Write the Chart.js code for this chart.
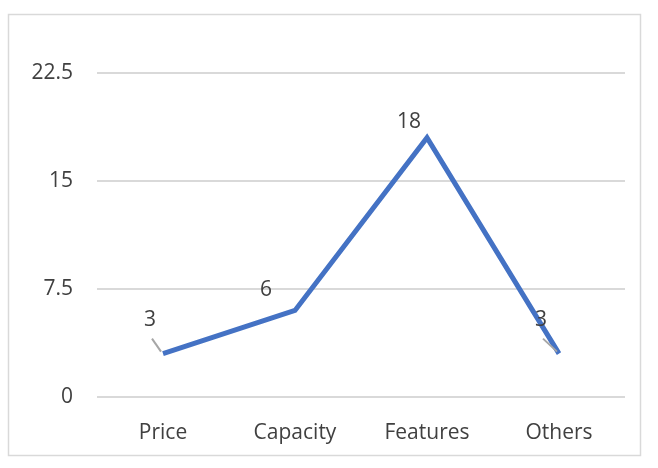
<!DOCTYPE html>
<html>
<head>
<script src="https://cdn.jsdelivr.net/npm/chart.js@4/dist/chart.umd.min.js"></script>
<style>
  body { margin: 0; background: #fff; }
  #wrap { width: 658px; height: 468px; }
</style>
</head>
<body>
<div id="wrap"><canvas id="lineChart" width="658" height="468"></canvas></div>
<script>
// Chart data
var categories = ["Price", "Capacity", "Features", "Others"];
var counts = [3, 6, 18, 3];
var yTicks = [0, 7.5, 15, 22.5];

// label offsets from the point (dx, dy) and whether a leader line is drawn
var labelOffsets = [[-13, -34, true], [-29, -20, false], [-18, -16, false], [-18, -34, true]];

var frameAndLabels = {
    id: "frameAndLabels",
    afterDraw: function (chart) {
        var ctx = chart.ctx;
        ctx.save();
        ctx.strokeStyle = "#d9d9d9";
        ctx.lineWidth = 1.5;
        ctx.strokeRect(8.5, 14.5, 632, 441);

        var meta = chart.getDatasetMeta(0);
        ctx.font = "21px 'Open Sans'";
        ctx.fillStyle = "#404040";
        ctx.textAlign = "center";
        ctx.textBaseline = "middle";
        meta.data.forEach(function (pt, i) {
            var off = labelOffsets[i];
            if (off[2]) {
                ctx.strokeStyle = "#a6a6a6";
                ctx.lineWidth = 2;
                ctx.beginPath();
                ctx.moveTo(pt.x + off[0] + 2, pt.y + off[1] + 19);
                ctx.lineTo(pt.x - 2, pt.y - 2);
                ctx.stroke();
            }
            ctx.fillText(String(counts[i]), pt.x + off[0], pt.y + off[1]);
        });
        ctx.restore();
    }
};

var ctxLine = document.getElementById("lineChart").getContext("2d");
new Chart(ctxLine, {
    type: "line",
    data: {
        labels: categories,
        datasets: [{
            data: counts,
            borderColor: "#4472c4",
            borderWidth: 5,
            pointRadius: 0,
            tension: 0,
            fill: false
        }]
    },
    options: {
        responsive: false,
        animation: false,
        layout: { padding: { left: 20, top: 73, right: 33, bottom: 6 } },
        plugins: { legend: { display: false }, tooltip: { enabled: false } },
        scales: {
            x: {
                offset: true,
                grid: { display: false },
                border: { display: false },
                ticks: { color: "#404040", font: { family: "Open Sans", size: 21 }, padding: 16 }
            },
            y: {
                min: 0,
                max: 22.5,
                afterBuildTicks: function (axis) {
                    axis.ticks = yTicks.map(function (v) { return { value: v }; });
                },
                afterFit: function (axis) { axis.width = 77; },
                grid: { color: "#d9d9d9", lineWidth: 2, drawTicks: false },
                border: { display: false },
                ticks: { color: "#404040", font: { family: "Open Sans", size: 21 }, padding: 24 }
            }
        }
    },
    plugins: [frameAndLabels]
});
</script>
</body>
</html>
